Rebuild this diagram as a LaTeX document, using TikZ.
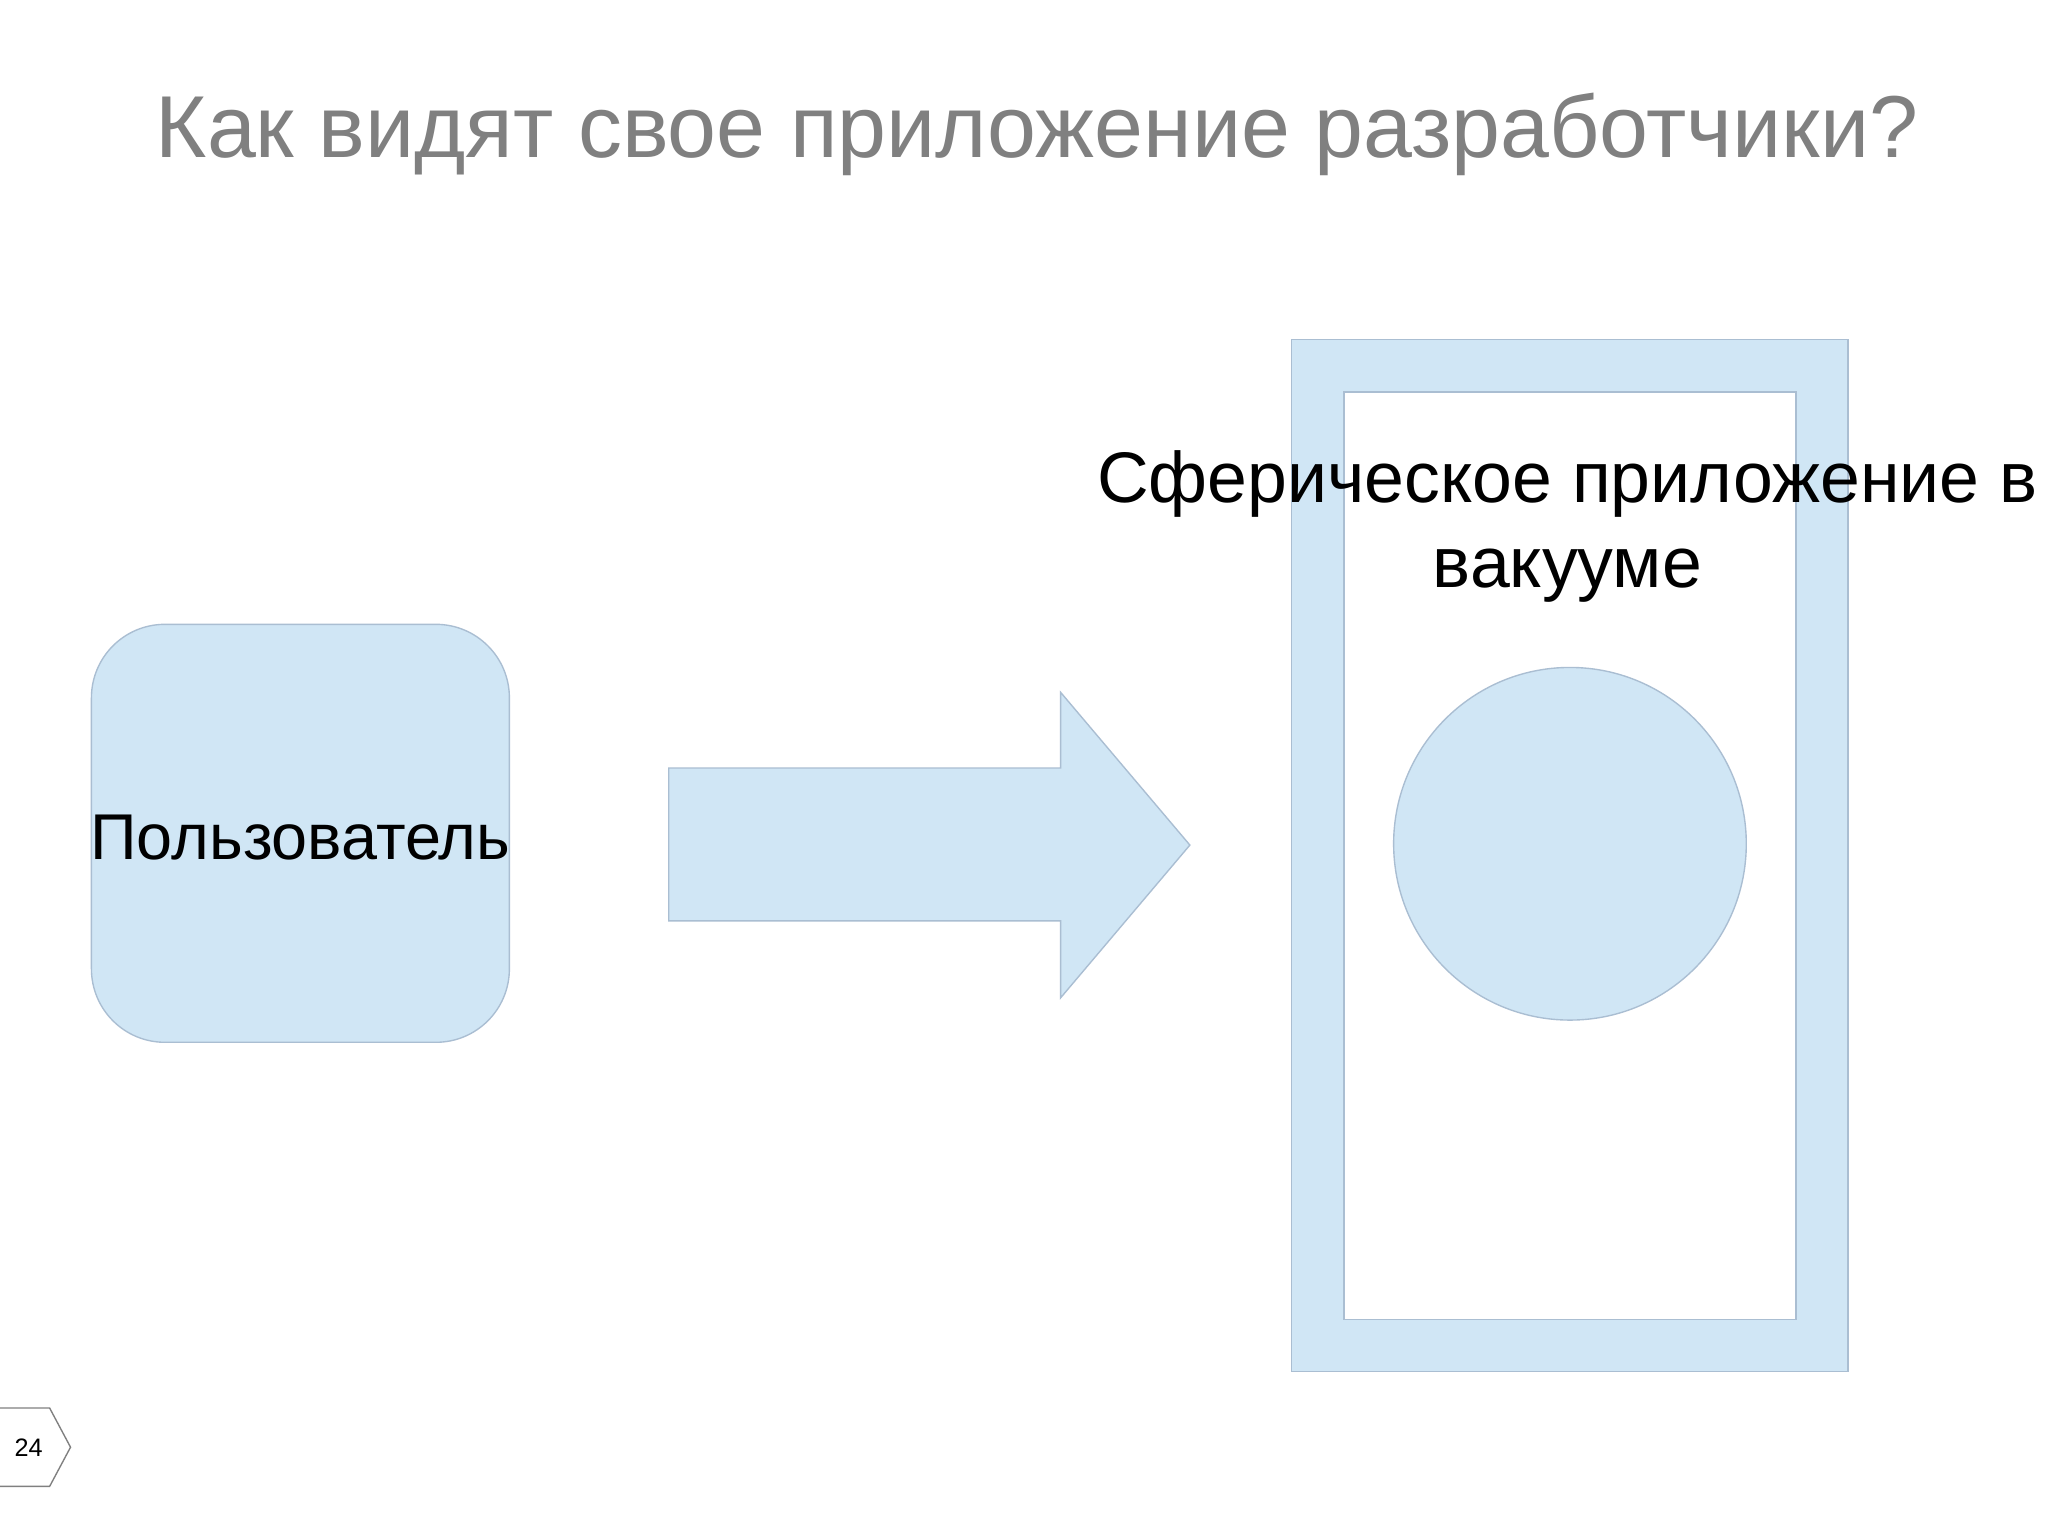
\documentclass[tikz,border=0pt]{standalone}
\usepackage{fontspec}
\setmainfont{Liberation Sans}
\begin{document}
\begin{tikzpicture}[x=0.1mm,y=-0.1mm,
  blue/.style={fill=lb,draw=lbd,line width=0.3pt}]
\definecolor{lb}{RGB}{208,230,245}
\definecolor{lbd}{RGB}{170,190,210}
\useasboundingbox (0,0) rectangle (1568,1176);
\fill[white] (0,0) rectangle (1568,1176);
\node[text=black!50,font=\fontsize{19.15pt}{23pt}\selectfont] (title) at (794,103) {Как видят свое приложение разработчики?};
\node[blue,rounded corners=16pt,minimum width=32mm,minimum height=32mm,inner sep=0pt] (user) at (230,638) {};
\node[font=\fontsize{14.1pt}{16pt}\selectfont] (userl) at (230,641) {Пользователь};
\draw[blue] (512,588) -- (812,588) -- (812,530) -- (911,647) -- (812,764) -- (812,705) -- (512,705) -- cycle;
\node[blue,minimum width=42.6mm,minimum height=79mm,inner sep=0pt] (outer) at (1202,655) {};
\node[fill=white,draw=lbd,line width=0.3pt,minimum width=34.6mm,minimum height=71mm,inner sep=0pt] (inner) at (1202,655) {};
\node[blue,circle,minimum size=27mm,inner sep=0pt] (sph) at (1202,646) {};
\node[font=\fontsize{15.6pt}{18.4pt}\selectfont,align=center] (appl) at (1200,403) {Сферическое приложение в\\вакууме};
\draw[draw=black!50,line width=0.3pt,fill=white] (0,1078) -- (38,1078) -- (54,1108) -- (38,1138) -- (0,1138);
\node[font=\fontsize{5.5pt}{6pt}\selectfont] (pg) at (22,1108) {24};
\end{tikzpicture}
\end{document}
